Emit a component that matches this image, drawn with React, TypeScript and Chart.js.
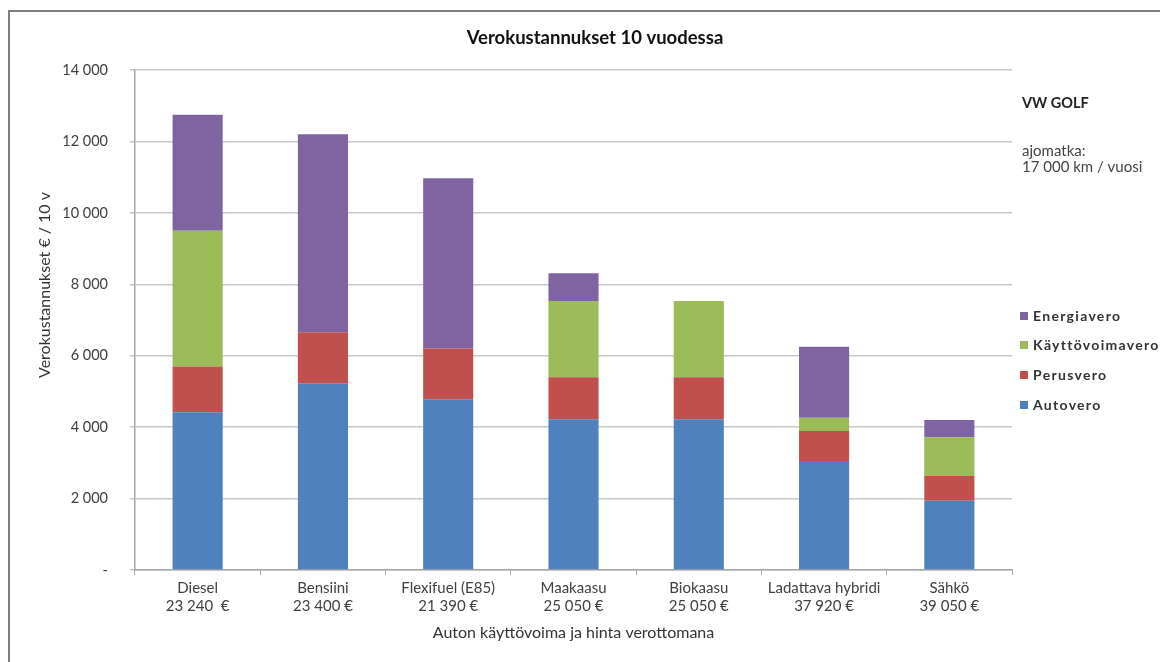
import React, { useEffect, useRef } from "react";
import { Chart, registerables } from "chart.js";

Chart.register(...registerables);

const categories: string[][] = [
  ["Diesel", "23 240  €"],
  ["Bensiini", "23 400 €"],
  ["Flexifuel (E85)", "21 390 €"],
  ["Maakaasu", "25 050 €"],
  ["Biokaasu", "25 050 €"],
  ["Ladattava hybridi", "37 920 €"],
  ["Sähkö", "39 050 €"],
];

const autovero = [4420, 5230, 4780, 4220, 4220, 3050, 1940];
const perusvero = [1280, 1430, 1420, 1180, 1180, 840, 690];
const kayttovoimavero = [3800, 0, 0, 2130, 2130, 370, 1090];
const energiavero = [3250, 5540, 4770, 780, 0, 1990, 480];

const yTicks = [0, 2000, 4000, 6000, 8000, 10000, 12000, 14000];

const chartTitle = "Verokustannukset 10 vuodessa";
const yTitle = "Verokustannukset € / 10 v";
const xTitle = "Auton käyttövoima ja hinta verottomana";
const noteTitle = "VW GOLF";
const noteLines = ["ajomatka:", "17 000 km / vuosi"];

const FONT = "Lato, 'Open Sans', sans-serif";

const seriesNames = ["Autovero", "Perusvero", "Käyttövoimavero", "Energiavero"];
const seriesColors = ["#4F81BD", "#C0504D", "#9BBB59", "#8064A2"];
const seriesData = [autovero, perusvero, kayttovoimavero, energiavero];

function fmt(v: number): string {
  if (v === 0) return "-";
  const s = String(Math.round(v));
  return s.replace(/\B(?=(\d{3})+(?!\d))/g, " ");
}

const textPlugin = {
  id: "texts",
  afterDraw(chart: any) {
    const ctx = chart.ctx as CanvasRenderingContext2D;
    ctx.save();
    // title
    ctx.fillStyle = "#111";
    ctx.font = `bold 18.5px ${FONT}`;
    ctx.textAlign = "center";
    ctx.textBaseline = "middle";
    ctx.fillText(chartTitle, 585, 26);

    // y axis title
    ctx.save();
    ctx.translate(35, 273);
    ctx.rotate(-Math.PI / 2);
    ctx.font = `16px ${FONT}`;
    ctx.fillStyle = "#333";
    ctx.fillText(yTitle, 0, 0);
    ctx.restore();

    // note
    ctx.textAlign = "left";
    ctx.font = `bold 14.5px ${FONT}`;
    ctx.fillStyle = "#222";
    ctx.fillText(noteTitle, 1012, 91);
    ctx.font = `15px ${FONT}`;
    ctx.fillStyle = "#444";
    noteLines.forEach((l, i) => ctx.fillText(l, 1012, 139 + i * 16));

    // legend (reversed order)
    const ys = [304, 333, 363, 393];
    for (let i = 0; i < 4; i++) {
      const idx = 3 - i;
      ctx.fillStyle = seriesColors[idx];
      ctx.fillRect(1010, ys[i] - 4, 8, 8);
      ctx.fillStyle = "#333";
      ctx.font = `bold 14px ${FONT}`;
      (ctx as any).letterSpacing = "1.3px";
      ctx.fillText(seriesNames[idx], 1023, ys[i]);
      (ctx as any).letterSpacing = "0px";
    }
    ctx.restore();
  },
};

export default function App() {
  const ref = useRef<HTMLCanvasElement | null>(null);
  useEffect(() => {
    if (!ref.current) return;
    const chart = new Chart(ref.current, {
      type: "bar",
      data: {
        labels: categories,
        datasets: seriesNames.map((n, i) => ({
          label: n,
          data: seriesData[i],
          backgroundColor: seriesColors[i],
          borderWidth: 0,
          categoryPercentage: 1,
          barPercentage: 0.4,
        })),
      },
      options: {
        responsive: false,
        animation: false,
        layout: { padding: { top: 58, right: 156, bottom: 18, left: 0 } },
        plugins: {
          legend: { display: false },
          title: { display: false },
          tooltip: { enabled: false },
        },
        scales: {
          x: {
            stacked: true,
            afterFit: (s: any) => {
              s.height = 74;
            },
            grid: {
              display: true,
              drawOnChartArea: false,
              drawTicks: true,
              tickLength: 5,
              color: "#a6a6a6",
              offset: true,
            },
            border: { display: true, color: "#a6a6a6", width: 1.5 },
            ticks: {
              color: "#404040",
              font: { family: FONT, size: 15, lineHeight: 1.2 },
              padding: 4,
              maxRotation: 0,
              autoSkip: false,
            },
            title: {
              display: true,
              text: xTitle,
              color: "#333",
              font: { family: FONT, size: 16, lineHeight: 1.2 },
              padding: { top: 4, bottom: 2 },
            },
          },
          y: {
            stacked: true,
            min: 0,
            max: 14000,
            afterFit: (s: any) => {
              s.width = 125;
            },
            afterBuildTicks: (s: any) => {
              s.ticks = yTicks.map((v) => ({ value: v }));
            },
            grid: {
              color: "#c8c8c8",
              lineWidth: 1.5,
              drawTicks: true,
              tickLength: 5,
            },
            border: { display: true, color: "#a6a6a6", width: 1.5 },
            ticks: {
              color: "#404040",
              font: { family: FONT, size: 14.5 },
              padding: 22,
              callback: (v: any) => fmt(Number(v)),
            },
            title: { display: false },
          },
        },
      },
      plugins: [textPlugin],
    });
    return () => chart.destroy();
  }, []);

  return (
    <div
      style={{
        marginTop: 2,
        width: 1158,
        height: 650,
        borderTop: "2px solid #7f7f7f",
        borderLeft: "2px solid #7f7f7f",
        background: "#fff",
      }}
    >
      <canvas ref={ref} width={1158} height={650} style={{ display: "block" }} />
    </div>
  );
}
